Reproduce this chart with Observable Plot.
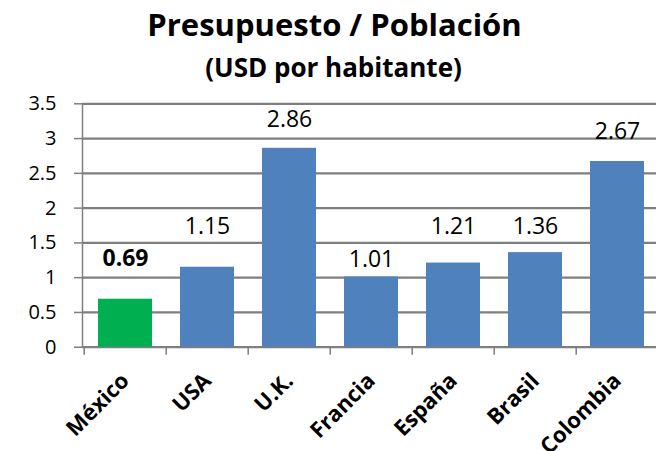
<!DOCTYPE html>
<html>
<head>
<meta charset="utf-8">
<script src="https://cdn.jsdelivr.net/npm/d3@7"></script>
<script src="https://cdn.jsdelivr.net/npm/@observablehq/plot@0.6"></script>
<style>
  html, body { margin: 0; padding: 0; background: #fff; overflow: hidden; }
  #wrap { position: relative; width: 656px; height: 451px; font-family: "Open Sans", sans-serif; }
  .title { position: absolute; left: 0; width: 669px; text-align: center; font-weight: 700; color: #000; white-space: nowrap; }
  #t1 { top: 8.6px; font-size: 31px; line-height: 31px; }
  #t2 { top: 53.5px; font-size: 26px; line-height: 26px; width: 667px; }
  #chart { position: absolute; left: 0; top: 90px; }
</style>
</head>
<body>
<div id="wrap">
  <div class="title" id="t1">Presupuesto / Población</div>
  <div class="title" id="t2">(USD por habitante)</div>
  <div id="chart"></div>
</div>
<script>
// Data
const paises = ["México", "USA", "U.K.", "Francia", "España", "Brasil", "Colombia"];
const valores = [0.69, 1.15, 2.86, 1.01, 1.21, 1.36, 2.67];
// Where each (manually placed) value label sits, in axis units
const etiquetaEn = [1.28, 1.74, 3.27, 1.26, 1.74, 1.74, 3.1];
const yTicks = [0, 0.5, 1, 1.5, 2, 2.5, 3, 3.5];
const resaltado = "México";

const data = paises.map((p, i) => ({pais: p, valor: valores[i], etq: etiquetaEn[i]}));
const dHi = data.filter(d => d.pais === resaltado);
const dRest = data.filter(d => d.pais !== resaltado);

const W = 656, H = 361;
const left = 82, xEnd = 660;
const step = (xEnd - left) / paises.length;
const gray = "#7f7f7f";
const blue = "#4F81BD", green = "#00B050";

const plot = Plot.plot({
  width: W,
  height: H,
  marginLeft: left,
  marginRight: 0,
  marginTop: 13.3,
  marginBottom: 104.3,
  style: {fontFamily: "Open Sans, sans-serif", background: "white"},
  x: {domain: paises, range: [left, xEnd], paddingInner: 0.34, paddingOuter: 0.17, axis: null},
  y: {domain: [0, 3.5], axis: null},
  marks: [
    Plot.ruleY(yTicks, {y: d => d, stroke: gray, strokeWidth: 2.2}),
    Plot.barY(dHi, {x: "pais", y: "valor", fill: green}),
    Plot.barY(dRest, {x: "pais", y: "valor", fill: blue}),
    Plot.frame({anchor: "left", stroke: gray, strokeWidth: 1.5}),
    Plot.axisY({ticks: yTicks, tickSize: 8, tickPadding: 18, label: null, stroke: gray, strokeWidth: 1.5,
                fontSize: 20, color: "#000", tickFormat: d => String(d)}),
    Plot.axisX({tickSize: 8, tickFormat: () => "", dx: -step / 2, stroke: gray, strokeWidth: 1.5, label: null}),
    Plot.text(dHi, {x: "pais", y: "etq", text: d => d.valor.toFixed(2),
                    fontSize: 23, fill: "#000", fontWeight: "bold"}),
    Plot.text(dRest, {x: "pais", y: "etq", text: d => d.valor.toFixed(2),
                      fontSize: 23, fill: "#000"}),
    Plot.text(paises, {x: d => d, y: () => 0, text: d => d, rotate: -45, textAnchor: "end", lineAnchor: "bottom",
                       dx: 5, dy: 35, fontSize: 22, fontWeight: "bold", fill: "#000"})
  ]
});
document.getElementById("chart").appendChild(plot);
</script>
</body>
</html>
